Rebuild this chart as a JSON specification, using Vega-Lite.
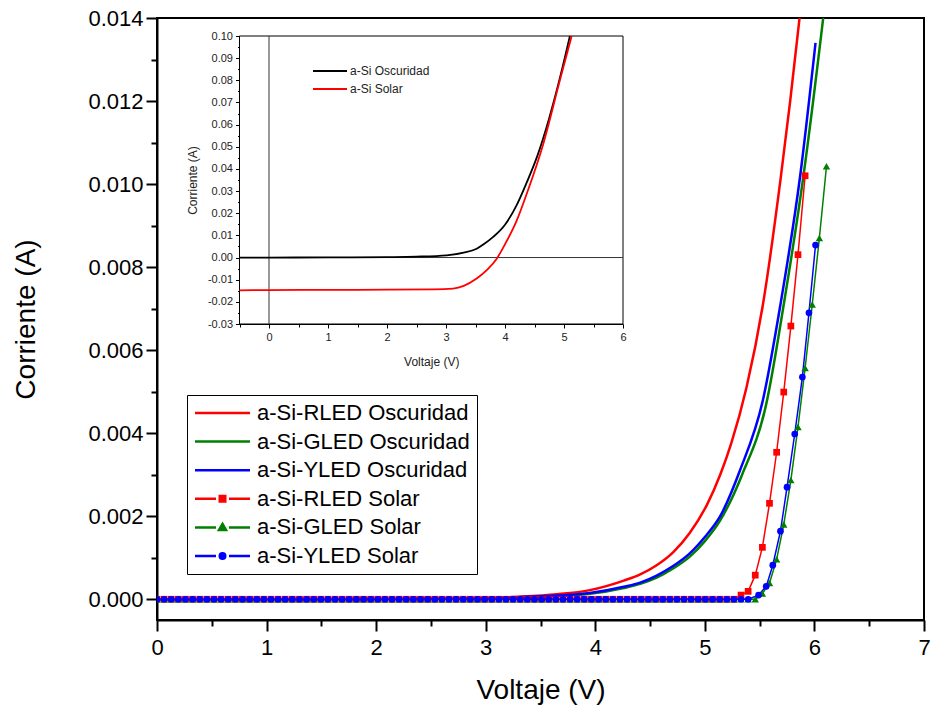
{
  "$schema": "https://vega.github.io/schema/vega-lite/v6.json",
  "width": 767,
  "height": 602,
  "autosize": {"type": "none"},
  "padding": {"left": 157, "top": 18, "right": 7, "bottom": 93},
  "background": "white",
  "config": {
    "font": "Liberation Sans",
    "view": {"stroke": "black", "strokeWidth": 2},
    "axis": {"grid": false, "labelColor": "black", "titleColor": "black", "domainColor": "black", "tickColor": "black", "titleFontWeight": "normal", "labelFont": "Liberation Sans", "titleFont": "Liberation Sans", "labelOverlap": false, "labelFlush": false}
  },
  "datasets": {
    "names": [
      {"k": "R", "s": "a-Si-RLED Solar"},
      {"k": "G", "s": "a-Si-GLED Solar"},
      {"k": "Y", "s": "a-Si-YLED Solar"}
    ],
    "osc": [
      {"s": "a-Si-RLED Oscuridad", "v": 0, "i": 0},
      {"s": "a-Si-RLED Oscuridad", "v": 1, "i": 0.000002},
      {"s": "a-Si-RLED Oscuridad", "v": 2, "i": 0.000008},
      {"s": "a-Si-RLED Oscuridad", "v": 2.5, "i": 0.000015},
      {"s": "a-Si-RLED Oscuridad", "v": 3, "i": 0.00003},
      {"s": "a-Si-RLED Oscuridad", "v": 3.3, "i": 0.00006},
      {"s": "a-Si-RLED Oscuridad", "v": 3.65, "i": 0.00012},
      {"s": "a-Si-RLED Oscuridad", "v": 3.95, "i": 0.00022},
      {"s": "a-Si-RLED Oscuridad", "v": 4.26, "i": 0.00045},
      {"s": "a-Si-RLED Oscuridad", "v": 4.41, "i": 0.0006},
      {"s": "a-Si-RLED Oscuridad", "v": 4.56, "i": 0.00082},
      {"s": "a-Si-RLED Oscuridad", "v": 4.71, "i": 0.00113},
      {"s": "a-Si-RLED Oscuridad", "v": 4.86, "i": 0.00159},
      {"s": "a-Si-RLED Oscuridad", "v": 5.02, "i": 0.00228},
      {"s": "a-Si-RLED Oscuridad", "v": 5.14, "i": 0.003},
      {"s": "a-Si-RLED Oscuridad", "v": 5.24, "i": 0.00375},
      {"s": "a-Si-RLED Oscuridad", "v": 5.38, "i": 0.0051},
      {"s": "a-Si-RLED Oscuridad", "v": 5.53, "i": 0.0071},
      {"s": "a-Si-RLED Oscuridad", "v": 5.69, "i": 0.0101},
      {"s": "a-Si-RLED Oscuridad", "v": 5.86, "i": 0.0139},
      {"s": "a-Si-RLED Oscuridad", "v": 5.9, "i": 0.0149},
      {"s": "a-Si-GLED Oscuridad", "v": 0, "i": 0},
      {"s": "a-Si-GLED Oscuridad", "v": 1, "i": 0.000001},
      {"s": "a-Si-GLED Oscuridad", "v": 2, "i": 0.000004},
      {"s": "a-Si-GLED Oscuridad", "v": 2.5, "i": 0.00001},
      {"s": "a-Si-GLED Oscuridad", "v": 3, "i": 0.000018},
      {"s": "a-Si-GLED Oscuridad", "v": 3.5, "i": 0.00006},
      {"s": "a-Si-GLED Oscuridad", "v": 3.95, "i": 0.00013},
      {"s": "a-Si-GLED Oscuridad", "v": 4.26, "i": 0.00027},
      {"s": "a-Si-GLED Oscuridad", "v": 4.41, "i": 0.00037},
      {"s": "a-Si-GLED Oscuridad", "v": 4.56, "i": 0.00052},
      {"s": "a-Si-GLED Oscuridad", "v": 4.71, "i": 0.00074},
      {"s": "a-Si-GLED Oscuridad", "v": 4.86, "i": 0.00102},
      {"s": "a-Si-GLED Oscuridad", "v": 5.0, "i": 0.0014},
      {"s": "a-Si-GLED Oscuridad", "v": 5.14, "i": 0.0019},
      {"s": "a-Si-GLED Oscuridad", "v": 5.34, "i": 0.003},
      {"s": "a-Si-GLED Oscuridad", "v": 5.56, "i": 0.0047},
      {"s": "a-Si-GLED Oscuridad", "v": 5.72, "i": 0.0071},
      {"s": "a-Si-GLED Oscuridad", "v": 5.9, "i": 0.0102},
      {"s": "a-Si-GLED Oscuridad", "v": 6.08, "i": 0.014},
      {"s": "a-Si-GLED Oscuridad", "v": 6.12, "i": 0.0149},
      {"s": "a-Si-YLED Oscuridad", "v": 0, "i": 0},
      {"s": "a-Si-YLED Oscuridad", "v": 1, "i": 0.000001},
      {"s": "a-Si-YLED Oscuridad", "v": 2, "i": 0.000005},
      {"s": "a-Si-YLED Oscuridad", "v": 2.5, "i": 0.00001},
      {"s": "a-Si-YLED Oscuridad", "v": 3, "i": 0.00002},
      {"s": "a-Si-YLED Oscuridad", "v": 3.5, "i": 0.00007},
      {"s": "a-Si-YLED Oscuridad", "v": 3.95, "i": 0.00015},
      {"s": "a-Si-YLED Oscuridad", "v": 4.26, "i": 0.0003},
      {"s": "a-Si-YLED Oscuridad", "v": 4.41, "i": 0.0004},
      {"s": "a-Si-YLED Oscuridad", "v": 4.56, "i": 0.00057},
      {"s": "a-Si-YLED Oscuridad", "v": 4.71, "i": 0.0008},
      {"s": "a-Si-YLED Oscuridad", "v": 4.86, "i": 0.0011},
      {"s": "a-Si-YLED Oscuridad", "v": 5.0, "i": 0.0015},
      {"s": "a-Si-YLED Oscuridad", "v": 5.14, "i": 0.002},
      {"s": "a-Si-YLED Oscuridad", "v": 5.32, "i": 0.0031},
      {"s": "a-Si-YLED Oscuridad", "v": 5.53, "i": 0.0048},
      {"s": "a-Si-YLED Oscuridad", "v": 5.69, "i": 0.0071},
      {"s": "a-Si-YLED Oscuridad", "v": 5.87, "i": 0.0102},
      {"s": "a-Si-YLED Oscuridad", "v": 6.01, "i": 0.0134}
    ],
    "solar": [
      {"v": 0, "R": 0, "G": 0, "Y": 0},
      {"v": 0.065, "R": 0, "G": 0, "Y": 0},
      {"v": 0.13, "R": 0, "G": 0, "Y": 0},
      {"v": 0.195, "R": 0, "G": 0, "Y": 0},
      {"v": 0.26, "R": 0, "G": 0, "Y": 0},
      {"v": 0.325, "R": 0, "G": 0, "Y": 0},
      {"v": 0.39, "R": 0, "G": 0, "Y": 0},
      {"v": 0.455, "R": 0, "G": 0, "Y": 0},
      {"v": 0.52, "R": 0, "G": 0, "Y": 0},
      {"v": 0.585, "R": 0, "G": 0, "Y": 0},
      {"v": 0.65, "R": 0, "G": 0, "Y": 0},
      {"v": 0.715, "R": 0, "G": 0, "Y": 0},
      {"v": 0.78, "R": 0, "G": 0, "Y": 0},
      {"v": 0.845, "R": 0, "G": 0, "Y": 0},
      {"v": 0.91, "R": 0, "G": 0, "Y": 0},
      {"v": 0.975, "R": 0, "G": 0, "Y": 0},
      {"v": 1.04, "R": 0, "G": 0, "Y": 0},
      {"v": 1.105, "R": 0, "G": 0, "Y": 0},
      {"v": 1.17, "R": 0, "G": 0, "Y": 0},
      {"v": 1.235, "R": 0, "G": 0, "Y": 0},
      {"v": 1.3, "R": 0, "G": 0, "Y": 0},
      {"v": 1.365, "R": 0, "G": 0, "Y": 0},
      {"v": 1.43, "R": 0, "G": 0, "Y": 0},
      {"v": 1.495, "R": 0, "G": 0, "Y": 0},
      {"v": 1.56, "R": 0, "G": 0, "Y": 0},
      {"v": 1.625, "R": 0, "G": 0, "Y": 0},
      {"v": 1.69, "R": 0, "G": 0, "Y": 0},
      {"v": 1.755, "R": 0, "G": 0, "Y": 0},
      {"v": 1.82, "R": 0, "G": 0, "Y": 0},
      {"v": 1.885, "R": 0, "G": 0, "Y": 0},
      {"v": 1.95, "R": 0, "G": 0, "Y": 0},
      {"v": 2.015, "R": 0, "G": 0, "Y": 0},
      {"v": 2.08, "R": 0, "G": 0, "Y": 0},
      {"v": 2.145, "R": 0, "G": 0, "Y": 0},
      {"v": 2.21, "R": 0, "G": 0, "Y": 0},
      {"v": 2.275, "R": 0, "G": 0, "Y": 0},
      {"v": 2.34, "R": 0, "G": 0, "Y": 0},
      {"v": 2.405, "R": 0, "G": 0, "Y": 0},
      {"v": 2.47, "R": 0, "G": 0, "Y": 0},
      {"v": 2.535, "R": 0, "G": 0, "Y": 0},
      {"v": 2.6, "R": 0, "G": 0, "Y": 0},
      {"v": 2.665, "R": 0, "G": 0, "Y": 0},
      {"v": 2.73, "R": 0, "G": 0, "Y": 0},
      {"v": 2.795, "R": 0, "G": 0, "Y": 0},
      {"v": 2.86, "R": 0, "G": 0, "Y": 0},
      {"v": 2.925, "R": 0, "G": 0, "Y": 0},
      {"v": 2.99, "R": 0, "G": 0, "Y": 0},
      {"v": 3.055, "R": 0, "G": 0, "Y": 0},
      {"v": 3.12, "R": 0, "G": 0, "Y": 0},
      {"v": 3.185, "R": 0, "G": 0, "Y": 0},
      {"v": 3.25, "R": 0, "G": 0, "Y": 0},
      {"v": 3.315, "R": 0, "G": 0, "Y": 0},
      {"v": 3.38, "R": 0, "G": 0, "Y": 0},
      {"v": 3.445, "R": 0, "G": 0, "Y": 0},
      {"v": 3.51, "R": 0, "G": 0, "Y": 0},
      {"v": 3.575, "R": 0, "G": 0, "Y": 0},
      {"v": 3.64, "R": 0, "G": 0, "Y": 0},
      {"v": 3.705, "R": 0, "G": 0, "Y": 0},
      {"v": 3.77, "R": 0, "G": 0, "Y": 0},
      {"v": 3.835, "R": 0, "G": 0, "Y": 0},
      {"v": 3.9, "R": 0, "G": 0, "Y": 0},
      {"v": 3.965, "R": 0, "G": 0, "Y": 0},
      {"v": 4.03, "R": 0, "G": 0, "Y": 0},
      {"v": 4.095, "R": 0, "G": 0, "Y": 0},
      {"v": 4.16, "R": 0, "G": 0, "Y": 0},
      {"v": 4.225, "R": 0, "G": 0, "Y": 0},
      {"v": 4.29, "R": 0, "G": 0, "Y": 0},
      {"v": 4.355, "R": 0, "G": 0, "Y": 0},
      {"v": 4.42, "R": 0, "G": 0, "Y": 0},
      {"v": 4.485, "R": 0, "G": 0, "Y": 0},
      {"v": 4.55, "R": 0, "G": 0, "Y": 0},
      {"v": 4.615, "R": 0, "G": 0, "Y": 0},
      {"v": 4.68, "R": 0, "G": 0, "Y": 0},
      {"v": 4.745, "R": 0, "G": 0, "Y": 0},
      {"v": 4.81, "R": 0, "G": 0, "Y": 0},
      {"v": 4.875, "R": 0, "G": 0, "Y": 0},
      {"v": 4.94, "R": 0, "G": 0, "Y": 0},
      {"v": 5.005, "R": 0, "G": 0, "Y": 0},
      {"v": 5.07, "R": 0, "G": 0, "Y": 0},
      {"v": 5.135, "R": 0, "G": 0, "Y": 0},
      {"v": 5.2, "R": 0, "G": 0, "Y": 0},
      {"v": 5.265, "R": 0, "G": 0, "Y": 0},
      {"v": 5.33, "R": 0.0001, "G": 0, "Y": 0},
      {"v": 5.395, "R": 0.00019, "G": 0, "Y": 0},
      {"v": 5.46, "R": 0.00058, "G": 0},
      {"v": 5.49, "Y": 0.0001},
      {"v": 5.525, "R": 0.00125, "G": 0.00014},
      {"v": 5.56, "Y": 0.00031},
      {"v": 5.59, "R": 0.00231, "G": 0.00039},
      {"v": 5.62, "Y": 0.00082},
      {"v": 5.655, "R": 0.00354, "G": 0.00096},
      {"v": 5.69, "Y": 0.00164},
      {"v": 5.72, "R": 0.00499, "G": 0.0018},
      {"v": 5.75, "Y": 0.0027},
      {"v": 5.785, "R": 0.00658, "G": 0.00287},
      {"v": 5.82, "Y": 0.00398},
      {"v": 5.85, "R": 0.0083, "G": 0.00415},
      {"v": 5.89, "Y": 0.00535},
      {"v": 5.915, "R": 0.0102, "G": 0.00557},
      {"v": 5.95, "Y": 0.0069},
      {"v": 5.98, "G": 0.0071},
      {"v": 6.01, "Y": 0.00853},
      {"v": 6.045, "G": 0.0087},
      {"v": 6.11, "G": 0.01043}
    ],
    "inset": [
      {"s": "a-Si Oscuridad", "v": -0.5, "i": 0},
      {"s": "a-Si Oscuridad", "v": 0, "i": 0},
      {"s": "a-Si Oscuridad", "v": 1, "i": 0.00005},
      {"s": "a-Si Oscuridad", "v": 2, "i": 0.0002},
      {"s": "a-Si Oscuridad", "v": 2.5, "i": 0.0004},
      {"s": "a-Si Oscuridad", "v": 3.01, "i": 0.001},
      {"s": "a-Si Oscuridad", "v": 3.3, "i": 0.0022},
      {"s": "a-Si Oscuridad", "v": 3.52, "i": 0.004},
      {"s": "a-Si Oscuridad", "v": 3.65, "i": 0.0062},
      {"s": "a-Si Oscuridad", "v": 3.8, "i": 0.0093},
      {"s": "a-Si Oscuridad", "v": 4.0, "i": 0.0148},
      {"s": "a-Si Oscuridad", "v": 4.2, "i": 0.0238},
      {"s": "a-Si Oscuridad", "v": 4.37, "i": 0.034},
      {"s": "a-Si Oscuridad", "v": 4.55, "i": 0.046},
      {"s": "a-Si Oscuridad", "v": 4.75, "i": 0.063},
      {"s": "a-Si Oscuridad", "v": 4.93, "i": 0.081},
      {"s": "a-Si Oscuridad", "v": 5.1, "i": 0.1},
      {"s": "a-Si Solar", "v": -0.5, "i": -0.0148},
      {"s": "a-Si Solar", "v": 0, "i": -0.0147},
      {"s": "a-Si Solar", "v": 1, "i": -0.0146},
      {"s": "a-Si Solar", "v": 2, "i": -0.0145},
      {"s": "a-Si Solar", "v": 2.8, "i": -0.0144},
      {"s": "a-Si Solar", "v": 3.12, "i": -0.014},
      {"s": "a-Si Solar", "v": 3.3, "i": -0.0128},
      {"s": "a-Si Solar", "v": 3.52, "i": -0.0095},
      {"s": "a-Si Solar", "v": 3.7, "i": -0.0055},
      {"s": "a-Si Solar", "v": 3.86, "i": -0.0005},
      {"s": "a-Si Solar", "v": 4.0, "i": 0.006},
      {"s": "a-Si Solar", "v": 4.2, "i": 0.0168},
      {"s": "a-Si Solar", "v": 4.37, "i": 0.0289},
      {"s": "a-Si Solar", "v": 4.65, "i": 0.0514},
      {"s": "a-Si Solar", "v": 4.93, "i": 0.08},
      {"s": "a-Si Solar", "v": 5.13, "i": 0.1}
    ]
  },
  "layer": [
    {
      "layer": [
        {
          "data": {"name": "osc"},
          "mark": {"type": "line", "strokeWidth": 2.5, "clip": true, "interpolate": "monotone"},
          "encoding": {
            "x": {
              "field": "v", "type": "quantitative",
              "scale": {"domain": [0, 7], "nice": false, "zero": false},
              "axis": {
                "orient": "bottom",
                "title": "Voltaje (V)",
                "values": [0, 1, 2, 3, 4, 5, 6, 7],
                "format": ".0f",
                "tickSize": 11, "tickWidth": 2, "domainWidth": 2,
                "labelFontSize": 22, "labelPadding": 6,
                "titleFontSize": 28, "titlePadding": 18
              }
            },
            "y": {
              "field": "i", "type": "quantitative",
              "scale": {"domain": [-0.0005, 0.014], "nice": false, "zero": false},
              "axis": {
                "orient": "left",
                "title": "Corriente (A)",
                "values": [0, 0.002, 0.004, 0.006, 0.008, 0.01, 0.012, 0.014],
                "format": ".3f",
                "tickSize": 11, "tickWidth": 2, "domainWidth": 2,
                "labelFontSize": 22, "labelPadding": 3,
                "titleFontSize": 28, "titlePadding": 47
              }
            },
            "color": {
              "field": "s", "type": "nominal",
              "scale": {
                "domain": ["a-Si-RLED Oscuridad", "a-Si-GLED Oscuridad", "a-Si-YLED Oscuridad", "a-Si-RLED Solar", "a-Si-GLED Solar", "a-Si-YLED Solar"],
                "range": ["#ff0000", "#008000", "#0000ff", "#ff0000", "#008000", "#0000ff"]
              },
              "legend": {
                "orient": "none", "legendX": 30, "legendY": 377,
                "title": null,
                "padding": 7, "strokeColor": "black", "fillColor": "white",
                "symbolSize": 100, "symbolStrokeWidth": 2.5,
                "symbolOffset": 17.5, "labelOffset": 23.5,
                "rowPadding": 6.6,
                "labelFont": "Liberation Sans", "labelFontSize": 22, "labelColor": "black", "labelLimit": 400,
                "encode": {
                  "symbols": {
                    "update": {
                      "shape": {"signal": "indexof(datum.value,'Solar')<0 ? 'M-5.5,0H5.5' : indexof(datum.value,'RLED')>=0 ? 'M-5.5,0H-1.3M-0.55,-0.55H0.55V0.55H-0.55ZM1.3,0H5.5' : indexof(datum.value,'GLED')>=0 ? 'M-5.5,0H-1.3M0,-0.7L0.7,0.5H-0.7ZM1.3,0H5.5' : 'M-5.5,0H-1.3M0.55,0A0.55,0.55 0 1,1 -0.55,0A0.55,0.55 0 1,1 0.55,0ZM1.3,0H5.5'"},
                      "stroke": {"signal": "indexof(datum.value,'RLED')>=0 ? '#ff0000' : indexof(datum.value,'GLED')>=0 ? '#008000' : '#0000ff'"},
                      "fill": {"signal": "indexof(datum.value,'RLED')>=0 ? '#ff0000' : indexof(datum.value,'GLED')>=0 ? '#008000' : '#0000ff'"},
                      "strokeWidth": {"value": 2.5},
                      "opacity": {"value": 1}
                    }
                  }
                }
              }
            }
          }
        },
        {
          "data": {"name": "solar"},
          "transform": [
            {"fold": ["R", "G", "Y"], "as": ["k", "i"]},
            {"filter": "isValid(datum.i)"},
            {"lookup": "k", "from": {"data": {"name": "names"}, "key": "k", "fields": ["s"]}}
          ],
          "encoding": {
            "x": {"field": "v", "type": "quantitative",
              "axis": {"orient": "bottom", "values": [0.5, 1.5, 2.5, 3.5, 4.5, 5.5, 6.5], "labels": false, "domain": false, "title": null, "tickSize": 6, "tickWidth": 2}},
            "y": {"field": "i", "type": "quantitative",
              "axis": {"orient": "left", "values": [0.001, 0.003, 0.005, 0.007, 0.009, 0.011, 0.013], "labels": false, "domain": false, "title": null, "tickSize": 6, "tickWidth": 2}},
            "color": {"field": "s", "type": "nominal", "legend": null}
          },
          "layer": [
            {"mark": {"type": "line", "strokeWidth": 1.5, "clip": true}},
            {"transform": [{"filter": "datum.k == 'R'"}], "mark": {"type": "point", "shape": "square", "filled": true, "size": 45, "opacity": 1, "clip": true}},
            {"transform": [{"filter": "datum.k == 'G'"}], "mark": {"type": "point", "shape": "triangle-up", "filled": true, "size": 55, "opacity": 1, "clip": true}},
            {"transform": [{"filter": "datum.k == 'Y'"}], "mark": {"type": "point", "shape": "circle", "filled": true, "size": 45, "opacity": 1, "clip": true}}
          ]
        }
      ],
      "resolve": {"axis": {"x": "independent", "y": "independent"}}
    },
    {
      "layer": [
        {
          "data": {"values": [{}]},
          "mark": {"type": "rect", "fill": "white", "stroke": "black", "strokeWidth": 1},
          "encoding": {
            "x": {"datum": -0.5, "type": "quantitative",
              "axis": {"orient": "bottom", "offset": -296, "values": [-0.5, 0.5, 1.5, 2.5, 3.5, 4.5, 5.5], "labels": false, "domain": false, "title": null, "tickSize": 3, "tickWidth": 1}},
            "x2": {"datum": 6},
            "y": {"datum": -0.03, "type": "quantitative",
              "axis": {"orient": "left", "offset": -82.5, "values": [-0.025, -0.015, -0.005, 0.005, 0.015, 0.025, 0.035, 0.045, 0.055, 0.065, 0.075, 0.085, 0.095], "labels": false, "domain": false, "title": null, "tickSize": 2, "tickWidth": 1}},
            "y2": {"datum": 0.1}
          }
        },
        {
          "data": {"values": [{}]},
          "mark": {"type": "rule", "color": "#333333", "strokeWidth": 1},
          "encoding": {
            "x": {"datum": 0, "type": "quantitative", "axis": null},
            "y": {"datum": -0.03, "type": "quantitative", "axis": null},
            "y2": {"datum": 0.1}
          }
        },
        {
          "data": {"values": [{}]},
          "mark": {"type": "rule", "color": "#333333", "strokeWidth": 1},
          "encoding": {
            "x": {"datum": -0.5, "type": "quantitative", "axis": null},
            "x2": {"datum": 6},
            "y": {"datum": 0, "type": "quantitative", "axis": null}
          }
        },
        {
          "data": {"name": "inset"},
          "mark": {"type": "line", "strokeWidth": 1.8, "interpolate": "monotone"},
          "encoding": {
            "x": {
              "field": "v", "type": "quantitative",
              "scale": {"domain": [-0.5, 6], "range": [82.5, 466], "nice": false, "zero": false},
              "axis": {
                "orient": "bottom", "offset": -296,
                "title": "Voltaje (V)",
                "values": [0, 1, 2, 3, 4, 5, 6],
                "format": ".0f",
                "tickSize": 4, "tickWidth": 1, "domainWidth": 1,
                "labelFontSize": 11, "labelPadding": 3, "labelColor": "#222222",
                "titleFontSize": 12, "titlePadding": 14, "titleColor": "#222222"
              }
            },
            "y": {
              "field": "i", "type": "quantitative",
              "scale": {"domain": [-0.03, 0.1], "range": [306, 18], "nice": false, "zero": false},
              "axis": {
                "orient": "left", "offset": -82.5,
                "title": "Corriente (A)",
                "values": [-0.03, -0.02, -0.01, 0, 0.01, 0.02, 0.03, 0.04, 0.05, 0.06, 0.07, 0.08, 0.09, 0.1],
                "format": ".2f",
                "labelExpr": "replace(datum.label, '\u2212', '-')",
                "tickSize": 4, "tickWidth": 1, "domainWidth": 1,
                "labelFontSize": 11, "labelPadding": 3, "labelColor": "#222222",
                "titleFontSize": 12, "titlePadding": 8, "titleColor": "#222222"
              }
            },
            "color": {
              "field": "s", "type": "nominal",
              "scale": {"domain": ["a-Si Oscuridad", "a-Si Solar"], "range": ["black", "#ff0000"]},
              "legend": {
                "orient": "none", "legendX": 156, "legendY": 47,
                "title": null, "padding": 0,
                "symbolType": "M-3.4,0H3.4", "symbolSize": 100, "symbolStrokeWidth": 2,
                "symbolOffset": 11, "labelOffset": 14, "rowPadding": 6,
                "labelFont": "Liberation Sans", "labelFontSize": 12, "labelColor": "#222222"
              }
            }
          }
        }
      ],
      "resolve": {"axis": {"x": "independent", "y": "independent"}}
    }
  ],
  "resolve": {"scale": {"x": "independent", "y": "independent", "color": "independent"}}
}
